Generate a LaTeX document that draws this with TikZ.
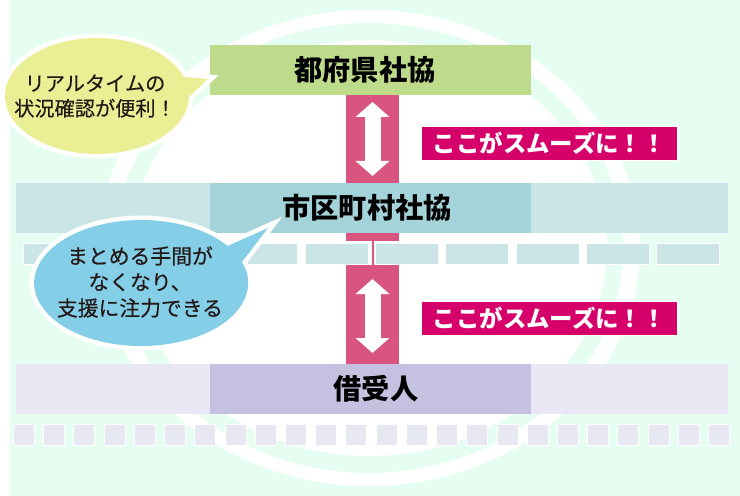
\documentclass[tikz,border=0pt]{standalone}
\usepackage{fontspec}
\usetikzlibrary{arrows.meta,calc,shapes.geometric}
\newfontfamily\cjk{Noto Sans CJK JP}
\newfontfamily\cjkm[FakeBold=0.35]{Noto Sans CJK JP}
\definecolor{mint}{HTML}{E6FEF2}
\definecolor{colpink}{HTML}{D9557F}
\definecolor{lblpink}{HTML}{D5006A}
\definecolor{topgreen}{HTML}{BEDB8B}
\definecolor{midlight}{HTML}{CBE5E6}
\definecolor{middark}{HTML}{A5D3DA}
\definecolor{lowlight}{HTML}{E9E7F3}
\definecolor{lowdark}{HTML}{C5C2E1}
\definecolor{sqcol}{HTML}{E8E8F3}
\definecolor{bubyellow}{HTML}{EAEE95}
\definecolor{bubblue}{HTML}{84CEE8}
\definecolor{inktext}{HTML}{231815}
\tikzset{
  x=1bp,y=-1bp,
  bar/.style={anchor=north west,minimum height=50bp,inner sep=0pt,outer sep=0pt,font=\cjk\bfseries\fontsize{28.2bp}{30bp}\selectfont,text=black},
  smallbox/.style={anchor=north west,fill=midlight,draw=white,line width=1bp,minimum width=63bp,minimum height=21bp,inner sep=0pt},
  square/.style={anchor=north west,fill=sqcol,draw=white,line width=1bp,minimum width=21bp,minimum height=21bp,inner sep=0pt},
  smoothlabel/.style={anchor=north west,fill=lblpink,draw=white,line width=.6bp,minimum width=256bp,minimum height=34bp,inner sep=0pt,text=white,font=\cjk\bfseries\fontsize{23.4bp}{25bp}\selectfont},
  bubtext/.style={align=center,text=inktext,inner sep=0pt},
  column/.style={draw=colpink,line width=53bp},
  flow/.style={draw=white,line width=16bp,{Triangle[width=33bp,length=15bp]}-{Triangle[width=33bp,length=15bp]}},
  bubble/.style={preaction={draw=white,line width=9bp,line join=miter}},
}
\begin{document}
\begin{tikzpicture}
\useasboundingbox (0,0) rectangle (740,496);
\fill[white] (0,0) rectangle (740,496);
\fill[mint] (10,0) rectangle (740,496);
\fill[white] (369,248) ellipse [x radius=271,y radius=238];
\fill[mint] (369,248) ellipse [x radius=254,y radius=225];
\fill[white] (369,248) ellipse [x radius=238,y radius=208];

% bars
\node[bar,fill=midlight,minimum width=712bp] (midbar) at (16,183) {};
\node[bar,fill=lowlight,minimum width=712bp] (lowbar) at (16,364) {};
\node[bar,fill=topgreen,minimum width=321bp] (top) at (210,45) {\hspace*{-11bp}都府県社協};
\node[bar,fill=middark,minimum width=321bp] (mid) at (210,183) {\hspace*{-7bp}市区町村社協};
\node[bar,fill=lowdark,minimum width=321bp] (low) at (210,364) {\hspace*{11bp}借受人};

% connectors
\coordinate (colx) at (372.5,0);
\coordinate (gaptop) at (372.5,241);
\coordinate (gapbot) at (372.5,265);
\draw[column] (top.south -| colx) -- (mid.north -| colx);
\draw[column] (mid.south -| colx) -- (gaptop);
\draw[column] (gapbot) -- (low.north -| colx);
\draw[draw=colpink,line width=2bp] (gaptop) -- (gapbot);
\coordinate (a1) at (372.5,102);
\coordinate (a2) at (372.5,176);
\coordinate (b1) at (372.5,279);
\coordinate (b2) at (372.5,353);
\draw[flow] (a1) -- (a2);
\draw[flow] (b1) -- (b2);

% small boxes
\foreach \i in {0,...,9} \node[smallbox] (box\i) at ({23.3+70.35*\i},243) {};
\foreach \i in {0,...,23} \node[square] (sq\i) at ({13+30.22*\i},423.5) {};

% labels
\node[smoothlabel] (lab1) at (421,126) {ここがスムーズに！！};
\node[smoothlabel] (lab2) at (421,300.5) {ここがスムーズに！！};

% bubbles
\path[bubble,fill=bubyellow] (184,77) -- (208,79) -- (189,97)
  arc [start angle=1,end angle=341,x radius=92,y radius=58] -- cycle;
\node[bubtext,font=\cjkm\fontsize{20.2bp}{25bp}\selectfont] (ybub) at (95,96) {リアルタイムの\\状況確認が便利！};
\path[bubble,fill=bubblue] (227.6,246) -- (268,228) -- (242,262)
  arc [start angle=-19.5,end angle=324,x radius=107,y radius=63] -- cycle;
\node[bubtext,font=\cjkm\fontsize{20.8bp}{26bp}\selectfont] (bbub) at (140,282) {まとめる手間が\\なくなり、\\支援に注力できる};
\end{tikzpicture}
\end{document}
